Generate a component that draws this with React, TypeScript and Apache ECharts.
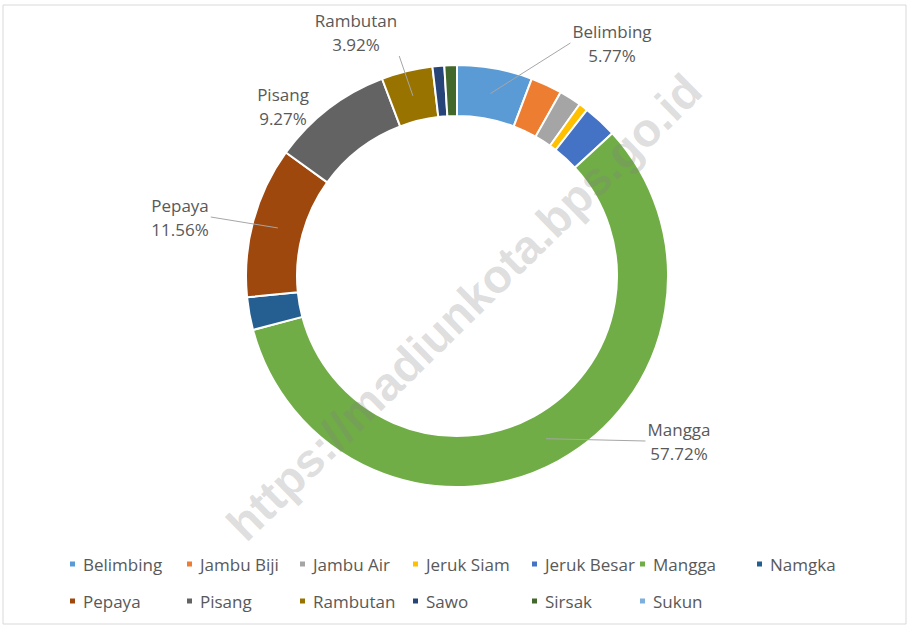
import React, { useEffect, useRef } from "react";
import * as echarts from "echarts";

const categories = [
  "Belimbing", "Jambu Biji", "Jambu Air", "Jeruk Siam", "Jeruk Besar", "Mangga", "Namgka",
  "Pepaya", "Pisang", "Rambutan", "Sawo", "Sirsak", "Sukun",
];
const shares = [5.77, 2.4, 1.7, 0.7, 2.6, 57.72, 2.5, 11.56, 9.27, 3.92, 0.9, 0.96, 0];
const colors = [
  "#5B9BD5", "#ED7D31", "#A5A5A5", "#FFC000", "#4472C4", "#70AD47", "#255E91",
  "#9E480E", "#636363", "#997300", "#264478", "#43682B", "#7CAFDD",
];
const labelled = ["Belimbing", "Mangga", "Pepaya", "Pisang", "Rambutan"];
const withLeader = ["Belimbing", "Mangga", "Pepaya", "Rambutan"];

// label anchor positions (layout only)
const labelPos: Record<string, [number, number]> = {
  Belimbing: [612, 43],
  Rambutan: [356, 32],
  Pisang: [283, 106],
  Pepaya: [180, 217],
  Mangga: [679, 441],
};

const legendColumnsX = [68, 185, 298, 411, 530, 638, 755];
const CENTER: [number, number] = [457, 276];
const R_IN = 160;
const R_OUT = 211;

export default function App() {
  const ref = useRef<HTMLDivElement>(null);
  useEffect(() => {
    if (!ref.current) return;
    const chart = echarts.init(ref.current, null, { renderer: "svg" });
    const font = "'Open Sans', 'Noto Sans', sans-serif";
    const textColor = "#595959";
    const total = shares.reduce((a, b) => a + b, 0);
    const leaders: Record<string, number[][]> = {};

    const legends: any[] = legendColumnsX.map((x, i) => {
      const names = [categories[i], categories[i + 7]].filter((n) => n !== undefined);
      return {
        orient: "vertical",
        left: x,
        top: 555,
        padding: 0,
        data: names,
        icon: "rect",
        itemWidth: 7,
        itemHeight: 7,
        itemGap: 19,
        selectedMode: false,
        textStyle: { color: textColor, fontSize: 17, fontFamily: font, lineHeight: 18, padding: [0, 0, 0, 2] },
      };
    });

    const baseGraphic: any[] = [
      {
        id: "frame",
        type: "rect",
        shape: { x: 3, y: 5, width: 903, height: 619 },
        style: { fill: "none", stroke: "#d9d9d9", lineWidth: 1 },
        z: 0,
      },
      {
        id: "watermark",
        type: "text",
        x: 464,
        y: 307,
        rotation: 0.775,
        z: 100,
        style: {
          text: "https://madiunkota.bps.go.id",
          fill: "rgba(128,128,128,0.26)",
          font: "bold 47px 'Liberation Sans', Arial, sans-serif",
          align: "center",
          verticalAlign: "middle",
        },
      },
    ];

    chart.setOption({
      animation: false,
      backgroundColor: "#ffffff",
      color: colors,
      legend: legends,
      graphic: baseGraphic,
      series: [
        {
          type: "pie",
          center: CENTER,
          radius: [R_IN, R_OUT],
          startAngle: 90,
          clockwise: true,
          avoidLabelOverlap: false,
          itemStyle: { borderColor: "#ffffff", borderWidth: 2 },
          label: {
            show: false,
            formatter: "{b}\n{c}%",
            color: textColor,
            fontSize: 17,
            fontFamily: font,
            lineHeight: 24,
            align: "center",
          },
          labelLine: { show: false },
          labelLayout: (params: any) => {
            const idx = params.dataIndex;
            const name = categories[idx];
            const p = labelPos[name];
            if (!p) return {};
            let before = 0;
            for (let k = 0; k < idx; k++) before += shares[k];
            const mid = ((before + shares[idx] / 2) / total) * Math.PI * 2;
            const rm = (R_IN + R_OUT) / 2;
            const sx = CENTER[0] + rm * Math.sin(mid);
            const sy = CENTER[1] - rm * Math.cos(mid);
            const w = params.labelRect.width;
            const h = params.labelRect.height;
            const l = p[0] - w / 2 - 2;
            const r = p[0] + w / 2 + 2;
            const t = p[1] - h / 2;
            const b = p[1] + h / 2;
            const dxOut = sx < l ? l - sx : sx > r ? sx - r : 0;
            const dyOut = sy < t ? t - sy : sy > b ? sy - b : 0;
            let ex: number;
            let ey: number;
            if (dxOut > dyOut) {
              ex = sx < l ? l : r;
              ey = p[1];
            } else {
              ex = Math.min(Math.max(sx, l), r);
              ey = sy < t ? t : b;
            }
            leaders[name] = [[sx, sy], [ex, ey]];
            return { x: p[0], y: p[1], align: "center", verticalAlign: "middle" };
          },
          emphasis: { disabled: true },
          data: categories.map((name, i) => ({
            name,
            value: shares[i],
            label: { show: labelled.includes(name) },
          })),
        },
      ],
    });

    const drawLeaders = () => {
      const lines = withLeader
        .filter((n) => leaders[n])
        .map((n) => ({
          id: "leader-" + n,
          type: "polyline",
          z: 50,
          silent: true,
          shape: { points: leaders[n] },
          style: { stroke: "#a6a6a6", lineWidth: 1, fill: "none" },
        }));
      if (lines.length) chart.setOption({ graphic: [...baseGraphic, ...lines] }, { replaceMerge: ["graphic"] });
    };
    drawLeaders();
    return () => chart.dispose();
  }, []);
  return (
    <div
      ref={ref}
      style={{ position: "fixed", left: 0, top: 0, width: 911, height: 628, background: "#fff" }}
    />
  );
}
